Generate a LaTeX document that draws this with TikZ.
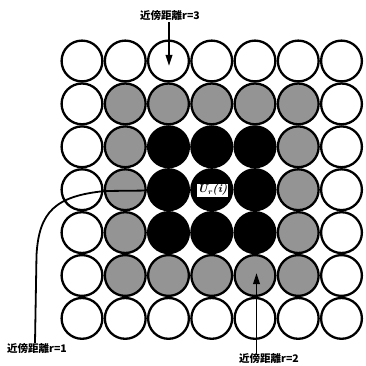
\documentclass[tikz,border=0pt]{standalone}
\usepackage{fontspec}
\newfontfamily\cjk{Noto Sans CJK JP}
\usetikzlibrary{arrows.meta}
\begin{document}
\begin{tikzpicture}[x=1pt,y=-1pt,
  circ/.style={circle,draw=black,line width=2.3pt,minimum size=40.8pt,inner sep=0pt,fill=white},
  graycirc/.style={circ,fill=black!42},
  blackcirc/.style={circ,fill=black},
  lbl/.style={font=\cjk\bfseries\fontsize{10.5}{12}\selectfont,inner sep=1pt},
  conn/.style={line width=1.8pt},
  arr/.style={conn,-{Triangle[length=11pt,width=6.5pt]}},
  ubox/.style={draw=black,fill=white,line width=0.8pt,inner sep=1.3pt,font=\fontsize{11.5}{13}\selectfont\bfseries\itshape}]
\useasboundingbox (0,0) rectangle (365,366);
\foreach \i in {0,...,6}{
  \foreach \j in {0,...,6}{
    \pgfmathtruncatemacro{\di}{abs(\i-3)}
    \pgfmathtruncatemacro{\dj}{abs(\j-3)}
    \pgfmathtruncatemacro{\d}{max(\di,\dj)}
    \ifnum\d<2
      \node[blackcirc] (c\i\j) at ({82+43.25*\i},{61+42.9*\j}) {};
    \else\ifnum\d=2
      \node[graycirc] (c\i\j) at ({82+43.25*\i},{61+42.9*\j}) {};
    \else
      \node[circ] (c\i\j) at ({82+43.25*\i},{61+42.9*\j}) {};
    \fi\fi
  }
}
\node[ubox] (u) at (212.5,190) {U\textsubscript{r}(i)};
\node[lbl] (t3) at (170,16) {近傍距離r=3};
\node[lbl] (t1) at (37,349) {近傍距離r=1};
\node[lbl] (t2) at (269,359) {近傍距離r=2};
\coordinate (a3) at (169,66);
\coordinate (a2) at (256.5,273);
\draw[arr] (t3.south -| a3) -- (a3);
\draw[arr] (t2.north -| a2) -- (a2);
\draw[conn] (t1.north -| 35,0) -- (36.5,255) .. controls (39,212) and (55,196) .. (105,191) -- (u.west);
\end{tikzpicture}
\end{document}
